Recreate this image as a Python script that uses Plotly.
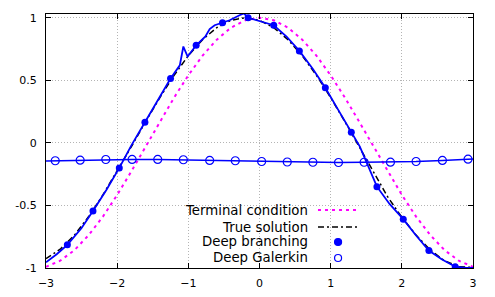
import plotly.graph_objects as go

# ---- data ----
term_x = [-3.0, -2.8, -2.6, -2.4, -2.2, -2.0, -1.8, -1.6, -1.4, -1.2, -1.0, -0.8, -0.6, -0.4, -0.2, 0.0,
          0.2, 0.4, 0.6, 0.8, 1.0, 1.2, 1.4, 1.6, 1.8, 2.0, 2.2, 2.4, 2.6, 2.8, 3.0]
term_y = [-0.990, -0.942, -0.857, -0.737, -0.589, -0.416, -0.227, -0.029, 0.170, 0.362, 0.540, 0.697,
          0.825, 0.921, 0.980, 1.000, 0.980, 0.921, 0.825, 0.697, 0.540, 0.362, 0.170, -0.029, -0.227,
          -0.416, -0.589, -0.737, -0.857, -0.942, -0.990]

true_x = term_x
true_y = [-0.925, -0.850, -0.737, -0.589, -0.416, -0.227, -0.029, 0.170, 0.362, 0.540, 0.697, 0.825,
          0.921, 0.980, 1.000, 0.980, 0.921, 0.825, 0.697, 0.540, 0.362, 0.170, -0.029, -0.240, -0.430,
          -0.595, -0.737, -0.857, -0.942, -0.990, -0.995]

branch_x = [-3.0, -2.85, -2.70, -2.50, -2.34, -2.15, -1.97, -1.80, -1.61, -1.43, -1.25, -1.12, -1.07,
            -1.01, -0.89, -0.76, -0.70, -0.63, -0.52, -0.42, -0.28, -0.22, -0.16, 0.0, 0.09, 0.20, 0.38,
            0.56, 0.75, 0.925, 1.10, 1.29, 1.41, 1.65, 1.83, 2.02, 2.20, 2.38, 2.56, 2.75, 2.90, 3.0]
branch_y = [-0.955, -0.89, -0.815, -0.68, -0.545, -0.375, -0.20, -0.02, 0.165, 0.34, 0.515, 0.62, 0.77,
            0.69, 0.78, 0.85, 0.91, 0.94, 0.96, 0.98, 1.02, 1.035, 1.0, 0.975, 0.96, 0.94, 0.85, 0.735,
            0.59, 0.44, 0.27, 0.085, -0.03, -0.35, -0.49, -0.61, -0.74, -0.86, -0.93, -0.99, -1.0, -1.0]
branch_marks = [-2.70, -2.34, -1.97, -1.61, -1.25, -0.89, -0.52, -0.16, 0.20, 0.56, 0.925, 1.29, 1.65,
                2.02, 2.38, 2.75]

galerkin_x = [-3.0, -2.87, -2.52, -2.16, -1.79, -1.43, -1.07, -0.70, -0.34, 0.03, 0.39, 0.75, 1.11, 1.47,
              1.84, 2.20, 2.57, 2.93, 3.0]
galerkin_y = [-0.145, -0.143, -0.138, -0.133, -0.132, -0.132, -0.135, -0.140, -0.143, -0.149, -0.153,
              -0.155, -0.157, -0.155, -0.154, -0.149, -0.140, -0.130, -0.128]
galerkin_marks = galerkin_x[1:-1]

legend_labels = ["Terminal condition", "True solution", "Deep branching", "Deep Galerkin"]
x_ticks = [-3, -2, -1, 0, 1, 2, 3]
y_ticks = [-1, -0.5, 0, 0.5, 1]
y_tick_text = ["-1", "-0.5", "0", "0.5", "1"]

BLUE = "#0000ff"
MAGENTA = "#ff00ff"
FONT = "DejaVu Sans"

fig = go.Figure()
fig.add_trace(go.Scatter(x=term_x, y=term_y, mode="lines",
                         line=dict(color=MAGENTA, width=2, dash="3px,4px"), showlegend=False))
fig.add_trace(go.Scatter(x=true_x, y=true_y, mode="lines",
                         line=dict(color="black", width=1.5, dash="6px,3px,2px,3px"), showlegend=False))
fig.add_trace(go.Scatter(x=branch_x, y=branch_y, mode="lines",
                         line=dict(color=BLUE, width=1.8), showlegend=False))
bm_y = [branch_y[branch_x.index(v)] for v in branch_marks]
fig.add_trace(go.Scatter(x=branch_marks, y=bm_y, mode="markers",
                         marker=dict(color=BLUE, size=7), showlegend=False))
fig.add_trace(go.Scatter(x=galerkin_x, y=galerkin_y, mode="lines",
                         line=dict(color=BLUE, width=1.5), showlegend=False))
gm_y = [galerkin_y[galerkin_x.index(v)] for v in galerkin_marks]
fig.add_trace(go.Scatter(x=galerkin_marks, y=gm_y, mode="markers",
                         marker=dict(color=BLUE, size=8, symbol="circle-open",
                                     line=dict(color=BLUE, width=1.2)), showlegend=False))

# ---- manual gnuplot-style legend (text left, sample right) ----
shapes = [dict(type="rect", xref="paper", yref="paper", x0=0.2506, x1=0.7494, y0=0.0, y1=0.2756,
               fillcolor="white", line=dict(width=0), layer="between")]
rows = [0.2283, 0.1614, 0.1024, 0.0394]
annotations = []
for lab, ry in zip(legend_labels, rows):
    annotations.append(dict(text=lab, xref="paper", yref="paper", x=0.6136, y=ry, xanchor="right",
                            yanchor="middle", showarrow=False, xshift=2,
                            font=dict(family=FONT, size=13.3, color="black")))
shapes.append(dict(type="line", xref="paper", yref="paper", x0=0.637, x1=0.7307, y0=rows[0], y1=rows[0],
                   line=dict(color=MAGENTA, width=2, dash="3px,4px"), layer="above"))
shapes.append(dict(type="line", xref="paper", yref="paper", x0=0.637, x1=0.7307, y0=rows[1], y1=rows[1],
                   line=dict(color="black", width=1.5, dash="6px,3px,2px,3px"), layer="above"))
for ry, filled in ((rows[2], True), (rows[3], False)):
    shapes.append(dict(type="circle", xref="paper", yref="paper", xsizemode="pixel", ysizemode="pixel",
                       xanchor=0.684, yanchor=ry, x0=-3.5, x1=3.5, y0=-3.5, y1=3.5,
                       fillcolor=BLUE if filled else "rgba(0,0,0,0)",
                       line=dict(color=BLUE, width=1.2), layer="above"))

axis_common = dict(showline=True, linecolor="black", linewidth=1, mirror="ticks", ticks="inside",
                   ticklen=5, tickcolor="black", showgrid=True, gridcolor="#b4b4b4", griddash="1px,2px",
                   gridwidth=1, zeroline=False, automargin=False,
                   tickfont=dict(family=FONT, size=11, color="black"))

fig.update_layout(
    width=495, height=297,
    margin=dict(l=46, r=22, t=14, b=29),
    plot_bgcolor="white", paper_bgcolor="white",
    font=dict(family=FONT),
    xaxis=dict(range=[-3, 3], tickvals=x_ticks, ticklabelstandoff=5, **axis_common),
    yaxis=dict(range=[-1, 1.03], tickvals=y_ticks, ticktext=y_tick_text, ticklabelstandoff=6, **axis_common),
    shapes=shapes, annotations=annotations, showlegend=False,
)

fig.write_html("out.html", config={"displayModeBar": False},
               post_script="document.body.style.margin='0';")
